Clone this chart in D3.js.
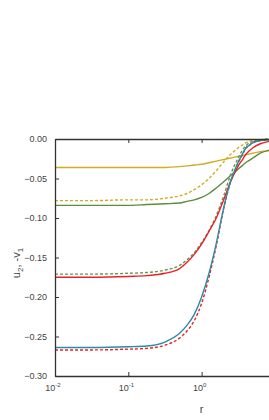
<!DOCTYPE html>
<html lang="en">
<head>
    <meta charset="UTF-8">
    <script src="https://d3js.org/d3.v7.min.js"></script>
    <title>u2, -v1 vs r</title>
    <style>
        body { margin: 0; background: #fff; }
        text { font-family: "Liberation Sans", "DejaVu Sans", sans-serif; fill: #444; }
        .curve { fill: none; stroke-width: 1.4px; }
        .dashed { stroke-dasharray: 3 2; }
    </style>
</head>
<body>
    <svg id="chart" width="269" height="420"></svg>

    <script>
    // r samples (log spaced)
    var rValues = [0.01, 0.0316, 0.1, 0.178, 0.316, 0.5, 0.631, 0.794, 1, 1.26, 1.585, 2.0, 2.51, 2.82, 3.16, 3.55, 3.98, 4.47, 5.01, 6.31, 8.3];

    var yellowSolid  = [-0.036, -0.036, -0.036, -0.036, -0.036, -0.035, -0.034, -0.033, -0.032, -0.030, -0.028, -0.026, -0.024, -0.023, -0.022, -0.021, -0.020, -0.019, -0.018, -0.016, -0.015];
    var yellowDashed = [-0.078, -0.078, -0.077, -0.077, -0.075, -0.072, -0.069, -0.064, -0.058, -0.050, -0.040, -0.029, -0.019, -0.015, -0.011, -0.008, -0.005, -0.003, -0.002, -0.001, 0.000];
    var greenSolid   = [-0.084, -0.084, -0.084, -0.083, -0.082, -0.081, -0.079, -0.077, -0.074, -0.069, -0.062, -0.054, -0.046, -0.042, -0.038, -0.034, -0.030, -0.027, -0.024, -0.018, -0.014];
    var greenDashed  = [-0.171, -0.171, -0.170, -0.169, -0.166, -0.160, -0.153, -0.144, -0.131, -0.116, -0.097, -0.072, -0.044, -0.033, -0.024, -0.015, -0.009, -0.005, -0.003, -0.001, 0.000];
    var redSolid     = [-0.175, -0.175, -0.174, -0.173, -0.170, -0.164, -0.156, -0.146, -0.133, -0.117, -0.100, -0.077, -0.053, -0.043, -0.034, -0.027, -0.020, -0.015, -0.011, -0.006, -0.003];
    var tealSolid    = [-0.264, -0.264, -0.263, -0.262, -0.257, -0.246, -0.236, -0.222, -0.200, -0.170, -0.132, -0.087, -0.052, -0.040, -0.029, -0.020, -0.012, -0.008, -0.005, -0.002, -0.001];
    var redDashed    = [-0.267, -0.267, -0.266, -0.265, -0.261, -0.252, -0.243, -0.230, -0.208, -0.175, -0.135, -0.088, -0.053, -0.041, -0.030, -0.021, -0.012, -0.008, -0.004, -0.002, -0.001];

    var yTicks = [0, -0.05, -0.10, -0.15, -0.20, -0.25, -0.30];
    var xTicks = [0.01, 0.1, 1];
    var xTickExp = ["-2", "-1", "0"];

    var series = [
        { name: "yellowSolid",  values: yellowSolid,  color: "#d2ad24", dashed: false },
        { name: "yellowDashed", values: yellowDashed, color: "#d2ad24", dashed: true },
        { name: "greenSolid",   values: greenSolid,   color: "#5e8c3e", dashed: false },
        { name: "greenDashed",  values: greenDashed,  color: "#6a9450", dashed: true },
        { name: "redSolid",     values: redSolid,     color: "#e8222b", dashed: false },
        { name: "redDashed",    values: redDashed,    color: "#e8222b", dashed: true },
        { name: "tealSolid",    values: tealSolid,    color: "#2b8ca6", dashed: false }
    ];

    // plot box (window.top is reserved, so avoid "top")
    var plotLeft = 55, plotRight = 269, plotTop = 139, plotBottom = 376;
    var svg = d3.select("#chart");

    var x = d3.scaleLog().domain([0.01, 8.3]).range([plotLeft, plotRight]);
    var y = d3.scaleLinear().domain([-0.30, 0]).range([plotBottom, plotTop]);

    // curves
    var line = d3.line()
        .x(function(d) { return x(d[0]); })
        .y(function(d) { return y(d[1]); })
        .curve(d3.curveMonotoneX);

    svg.append("g").attr("class", "curves")
        .selectAll("path")
        .data(series)
        .join("path")
        .attr("class", function(d) { return d.dashed ? "curve dashed" : "curve"; })
        .attr("stroke", function(d) { return d.color; })
        .attr("d", function(d) { return line(rValues.map(function(r, i) { return [r, d.values[i]]; })); });

    // left axis
    var yAxis = d3.axisLeft(y).tickValues(yTicks).tickSizeInner(-4).tickSizeOuter(0).tickPadding(8)
        .tickFormat(d3.format(".2f"));
    var gy = svg.append("g").attr("transform", "translate(" + plotLeft + ",0)").call(yAxis);
    gy.selectAll("text").style("font-size", "9px").attr("fill", "#444");

    // bottom axis
    var xAxis = d3.axisBottom(x).tickValues(xTicks).tickSizeInner(-4).tickSizeOuter(0).tickFormat("");
    svg.append("g").attr("transform", "translate(0," + plotBottom + ")").call(xAxis);

    // top axis
    var xTop = d3.axisTop(x).tickValues(xTicks).tickSizeInner(-4).tickSizeOuter(0).tickFormat("");
    svg.append("g").attr("transform", "translate(0," + plotTop + ")").call(xTop);

    svg.selectAll(".domain").attr("stroke", "#333").attr("stroke-width", 1.3);
    svg.selectAll(".tick line").attr("stroke", "#333");

    // x tick labels 10^n
    var xl = svg.append("g").selectAll("text")
        .data(xTicks)
        .join("text")
        .attr("x", function(d) { return x(d) - 2; })
        .attr("y", plotBottom + 15)
        .attr("text-anchor", "middle")
        .style("font-size", "9px");
    xl.append("tspan").text("10");
    xl.append("tspan").attr("dy", -4).style("font-size", "6px").text(function(d, i) { return xTickExp[i]; });

    // axis titles
    svg.append("text")
        .attr("x", x(1))
        .attr("y", 413)
        .attr("text-anchor", "middle")
        .style("font-size", "11px")
        .text("r");

    var yt = svg.append("text")
        .attr("transform", "translate(20," + 263 + ") rotate(-90)")
        .attr("text-anchor", "middle")
        .style("font-size", "11px");
    yt.append("tspan").text("u");
    yt.append("tspan").attr("dy", 3).style("font-size", "8px").text("2");
    yt.append("tspan").attr("dy", -3).text(", -v");
    yt.append("tspan").attr("dy", 3).style("font-size", "8px").text("1");
    </script>
</body>
</html>
